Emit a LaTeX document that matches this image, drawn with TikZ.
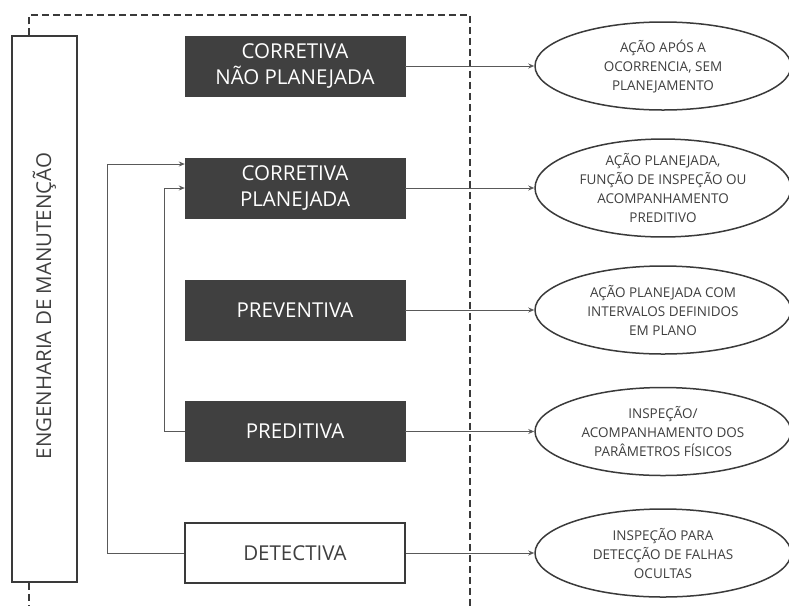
\documentclass[tikz,border=0pt]{standalone}
\usepackage{fontspec}
\setmainfont{Open Sans}
\usetikzlibrary{arrows.meta,shapes.geometric}

\definecolor{boxfill}{HTML}{404040}
\definecolor{edgegray}{HTML}{3A3A3A}
\definecolor{wiregray}{HTML}{595959}
\definecolor{txtgray}{HTML}{3F3F3F}

\begin{document}
\begin{tikzpicture}[x=1pt,y=-1pt,
  darkbox/.style={rectangle, fill=boxfill, draw=boxfill, text=white,
    minimum width=220pt, minimum height=60pt, inner sep=0pt, align=center,
    font=\fontsize{20.5}{26}\selectfont},
  lightbox/.style={darkbox, fill=white, draw=edgegray, line width=1.5pt, text=txtgray},
  oval/.style={ellipse, draw=edgegray, line width=1.5pt, fill=white,
    minimum width=256pt, minimum height=88pt, inner sep=0pt, align=center,
    text=txtgray, font=\fontsize{13.5}{19}\selectfont},
  tallbox/.style={rectangle, draw=edgegray, line width=1.5pt,
    minimum width=65pt, minimum height=546pt, inner sep=0pt},
  wire/.style={draw=wiregray, line width=1pt},
  arr/.style={wire, -{Stealth[length=6pt,width=5pt]}},
  frame/.style={draw=edgegray, line width=1.3pt, dash pattern=on 7pt off 4pt}
]
\useasboundingbox (0,0) rectangle (789,606);

% category boxes
\node[darkbox]  (b1) at (295,66)  {CORRETIVA\\NÃO PLANEJADA};
\node[darkbox]  (b2) at (295,188) {CORRETIVA\\PLANEJADA};
\node[darkbox]  (b3) at (295,310) {PREVENTIVA};
\node[darkbox]  (b4) at (295,431.5) {PREDITIVA};
\node[lightbox] (b5) at (295,553) {DETECTIVA};

% descriptions
\node[oval] (e1) at (663,66)  {AÇÃO APÓS A\\OCORRENCIA, SEM\\PLANEJAMENTO};
\node[oval, minimum height=93pt] (e2) at (663,188) {AÇÃO PLANEJADA,\\FUNÇÃO DE INSPEÇÃO OU\\ACOMPANHAMENTO\\PREDITIVO};
\node[oval] (e3) at (663,310) {AÇÃO PLANEJADA COM\\INTERVALOS DEFINIDOS\\EM PLANO};
\node[oval] (e4) at (663,431.5) {INSPEÇÃO/\\ACOMPANHAMENTO DOS\\PARÂMETROS FÍSICOS};
\node[oval] (e5) at (663,553) {INSPEÇÃO PARA\\DETECÇÃO DE FALHAS\\OCULTAS};

% side column
\node[tallbox] (eng) at (44.5,309) {};
\node[rotate=90, text=txtgray, font=\fontsize{20.5}{24}\selectfont] (englabel) at (44.5,306) {ENGENHARIA DE MANUTENÇÃO};

% dashed frame
\coordinate (ftl) at (29,15);
\coordinate (ftr) at (470,15);
\coordinate (fbr) at (470,606);
\coordinate (fbl) at (29,606);
\draw[frame] (eng.north -| ftl) -- (ftl) -- (ftr) -- (fbr);
\draw[frame] (eng.south -| fbl) -- (fbl);

% box to description
\foreach \i in {1,...,5} {
  \draw[arr] (b\i.east) -- (e\i.west);
}

% feedback into planned corrective
\draw[arr] (b5.west) -- ++(-77,0) |- ([yshift=24pt]b2.west);
\draw[arr] (b4.west) -- ++(-20,0) |- (b2.west);
\end{tikzpicture}
\end{document}
